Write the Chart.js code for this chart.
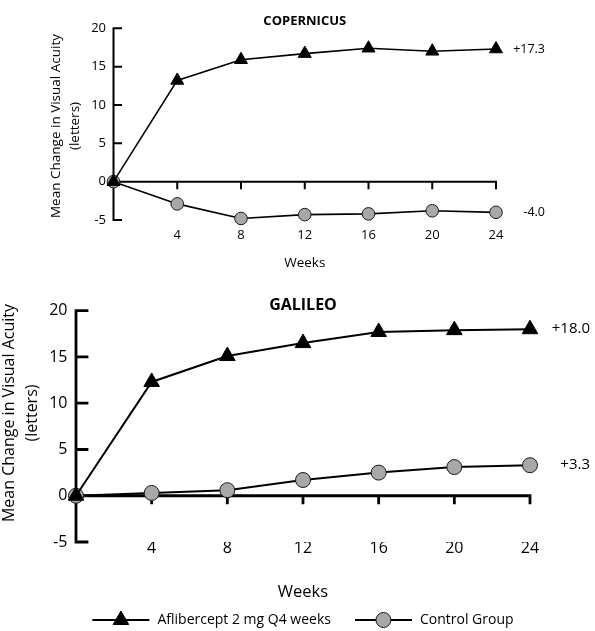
<!DOCTYPE html>
<html><head><meta charset="utf-8">
<script src="https://cdn.jsdelivr.net/npm/chart.js"></script>
<style>
html,body{margin:0;padding:0;background:#fff;}
#wrap{position:relative;width:595px;height:631px;overflow:hidden;}
canvas{position:absolute;left:0;}
#c1{top:0;}
#c2{top:280px;}
</style></head><body>
<div id="wrap"><canvas id="c1" width="595" height="280"></canvas><canvas id="c2" width="595" height="351"></canvas></div>
<script>
// ---- data ----
const weeks = [0, 4, 8, 12, 16, 20, 24];
const xTickValues = [4, 8, 12, 16, 20, 24];
const yTickValues = [-5, 0, 5, 10, 15, 20];
const seriesNames = ['Aflibercept 2 mg Q4 weeks', 'Control Group'];
const copernicusAflibercept = [0, 13.2, 15.9, 16.7, 17.4, 17.0, 17.3];
const copernicusControl = [0, -2.9, -4.8, -4.3, -4.2, -3.8, -4.0];
const galileoAflibercept = [0, 12.3, 15.1, 16.5, 17.7, 17.9, 18.0];
const galileoControl = [0, 0.3, 0.6, 1.7, 2.5, 3.1, 3.3];
const copernicusEndLabels = ['+17.3', '-4.0'];
const galileoEndLabels = ['+18.0', '+3.3'];
const chartTitles = ['COPERNICUS', 'GALILEO'];
const yTitleLines = ['Mean Change in Visual Acuity', '(letters)'];
const xTitleText = 'Weeks';

const FONT = "'Open Sans', 'DejaVu Sans', sans-serif";

// ---- plugins ----
const axesPlugin = {
  id: 'axesDraw',
  beforeDatasetsDraw(chart, args, o) {
    const {ctx} = chart; const x = chart.scales.x, y = chart.scales.y;
    const x0 = x.getPixelForValue(0), x1 = x.getPixelForValue(x.max);
    const yTop = y.getPixelForValue(y.max), yBot = y.getPixelForValue(y.min), yZero = y.getPixelForValue(0);
    ctx.save();
    ctx.strokeStyle = '#000'; ctx.lineWidth = o.width; ctx.lineCap = 'square';
    ctx.beginPath();
    ctx.moveTo(x0, yTop); ctx.lineTo(x0, yBot);
    y.ticks.forEach(t => { if (t.value === 0) return; const p = y.getPixelForValue(t.value); ctx.moveTo(x0, p); ctx.lineTo(x0 + o.yTickLen, p); });
    ctx.moveTo(x0, yZero); ctx.lineTo(x1, yZero);
    x.ticks.forEach(t => { const p = x.getPixelForValue(t.value); ctx.moveTo(p, yZero); ctx.lineTo(p, yZero + o.xTickLen); });
    ctx.stroke();
    ctx.restore();
  }
};

const textPlugin = {
  id: 'extraText',
  afterDatasetsDraw(chart, args, o) {
    const {ctx, chartArea} = chart; const y = chart.scales.y;
    ctx.save();
    ctx.fillStyle = '#000';
    // end-of-line value labels
    ctx.font = o.endSize + 'px ' + FONT;
    ctx.textAlign = 'right'; ctx.textBaseline = 'middle';
    chart.data.datasets.forEach((ds, i) => {
      const last = ds.data[ds.data.length - 1];
      ctx.fillText(o.endLabels[i], chartArea.right + o.endOffset, y.getPixelForValue(last.y));
    });
    // rotated y title
    ctx.font = o.ySize + 'px ' + FONT;
    ctx.textAlign = 'center';
    o.yLines.forEach((line, i) => {
      ctx.save();
      ctx.translate(o.yX[i], o.yY);
      ctx.rotate(-Math.PI / 2);
      ctx.fillText(line, 0, 0);
      ctx.restore();
    });
    ctx.restore();
  }
};

const legendPlugin = {
  id: 'lineLegend',
  afterDraw(chart, args, o) {
    if (!o.show) return;
    const {ctx, chartArea} = chart;
    ctx.save();
    ctx.font = o.size + 'px ' + FONT;
    const items = chart.data.datasets.map(ds => ({ds, w: o.lineLen + o.textGap + ctx.measureText(ds.label).width}));
    const total = items.reduce((s, it) => s + it.w, 0) + o.itemGap * (items.length - 1);
    let x = (chartArea.left + chartArea.right) / 2 - total / 2;
    const yy = o.y;
    items.forEach(it => {
      const ds = it.ds;
      ctx.strokeStyle = '#000'; ctx.lineWidth = o.lineWidth;
      ctx.beginPath(); ctx.moveTo(x, yy); ctx.lineTo(x + o.lineLen, yy); ctx.stroke();
      ctx.fillStyle = ds.pointBackgroundColor; ctx.strokeStyle = ds.pointBorderColor; ctx.lineWidth = ds.pointBorderWidth;
      Chart.helpers.drawPoint(ctx, {pointStyle: ds.pointStyle, radius: ds.pointRadius, borderWidth: ds.pointBorderWidth, rotation: 0}, x + o.lineLen / 2, yy);
      ctx.fillStyle = '#000'; ctx.textAlign = 'left'; ctx.textBaseline = 'middle';
      ctx.fillText(ds.label, x + o.lineLen + o.textGap, yy);
      x += it.w + o.itemGap;
    });
    ctx.restore();
  }
};

function makeChart(canvasId, title, aff, ctl, endLabels, d) {
  const pts = arr => weeks.map((w, i) => ({x: w, y: arr[i]}));
  return new Chart(document.getElementById(canvasId), {
    type: 'line',
    data: {
      datasets: [
        {label: seriesNames[0], data: pts(aff), borderColor: '#000', backgroundColor: '#000', borderWidth: d.lineW,
         pointStyle: 'triangle', pointRadius: d.triR, pointBackgroundColor: '#000', pointBorderColor: '#000', pointBorderWidth: 1, tension: 0, clip: false},
        {label: seriesNames[1], data: pts(ctl), borderColor: '#000', backgroundColor: '#a8a8a8', borderWidth: d.lineW,
         pointStyle: 'circle', pointRadius: d.cirR, pointBackgroundColor: '#a8a8a8', pointBorderColor: '#1a1a1a', pointBorderWidth: 1, tension: 0, clip: false}
      ]
    },
    options: {
      responsive: false, animation: false, devicePixelRatio: 1,
      layout: {padding: {left: 0, top: 0, bottom: 0, right: d.padRight}},
      scales: {
        x: {type: 'linear', min: 0, max: 24,
            afterBuildTicks: s => { s.ticks = xTickValues.map(v => ({value: v})); },
            grid: {display: false, drawTicks: false}, border: {display: false},
            ticks: {padding: d.xTickPad, color: '#000', font: {family: FONT, size: d.tickSize}, maxRotation: 0, autoSkip: false},
            title: {display: true, text: xTitleText, color: '#000', font: {family: FONT, size: d.xTitleSize}, padding: {top: 0, bottom: d.xTitlePadB}},
            afterFit: s => { s.height = d.xScaleH; }},
        y: {type: 'linear', min: -5, max: 20,
            afterBuildTicks: s => { s.ticks = yTickValues.map(v => ({value: v})); },
            grid: {display: false, drawTicks: false}, border: {display: false},
            ticks: {padding: d.yTickPad, color: '#000', font: {family: FONT, size: d.tickSize}},
            afterFit: s => { s.width = d.yScaleW; }}
      },
      plugins: {
        legend: {display: false}, tooltip: {enabled: false},
        title: {display: true, text: title, fullSize: false, color: '#000', font: {family: FONT, size: d.titleSize, weight: 'bold', lineHeight: 1.2}, padding: {top: d.titlePadT, bottom: d.titlePadB}},
        axesDraw: {width: d.axisW, yTickLen: d.yTickLen, xTickLen: d.xTickLen},
        extraText: {endLabels: endLabels, endSize: d.endSize, endOffset: d.endOffset, yLines: yTitleLines, ySize: d.ySize, yX: d.yX, yY: d.yY},
        lineLegend: d.legend
      }
    },
    plugins: [axesPlugin, textPlugin, legendPlugin]
  });
}

makeChart('c1', chartTitles[0], copernicusAflibercept, copernicusControl, copernicusEndLabels, {
  lineW: 1.6, triR: 7.5, cirR: 6.3, padRight: 99, xTickPad: 7.7, tickSize: 13, xTitleSize: 13.5, xTitlePadB: 8.6, xScaleH: 60,
  yTickPad: 7.5, yScaleW: 113.5, titleSize: 13, titlePadT: 13.2, titlePadB: -0.5, axisW: 2, yTickLen: 7.5, xTickLen: 6.5,
  endSize: 12.5, endOffset: 49, ySize: 13.5, yX: [56, 75], yY: 126, legend: {show: false}
});
makeChart('c2', chartTitles[1], galileoAflibercept, galileoControl, galileoEndLabels, {
  lineW: 2, triR: 9, cirR: 7.5, padRight: 65, xTickPad: -3.6, tickSize: 16, xTitleSize: 16.5, xTitlePadB: 29.1, xScaleH: 89,
  yTickPad: 8.5, yScaleW: 76, titleSize: 16, titlePadT: 15.4, titlePadB: -3.9, axisW: 2.8, yTickLen: 11, xTickLen: 7,
  endSize: 15, endOffset: 60, ySize: 16, yX: [9, 32], yY: 133,
  legend: {show: true, size: 14, y: 340, lineLen: 57, textGap: 8, itemGap: 24, lineWidth: 2}
});
</script>
</body></html>
